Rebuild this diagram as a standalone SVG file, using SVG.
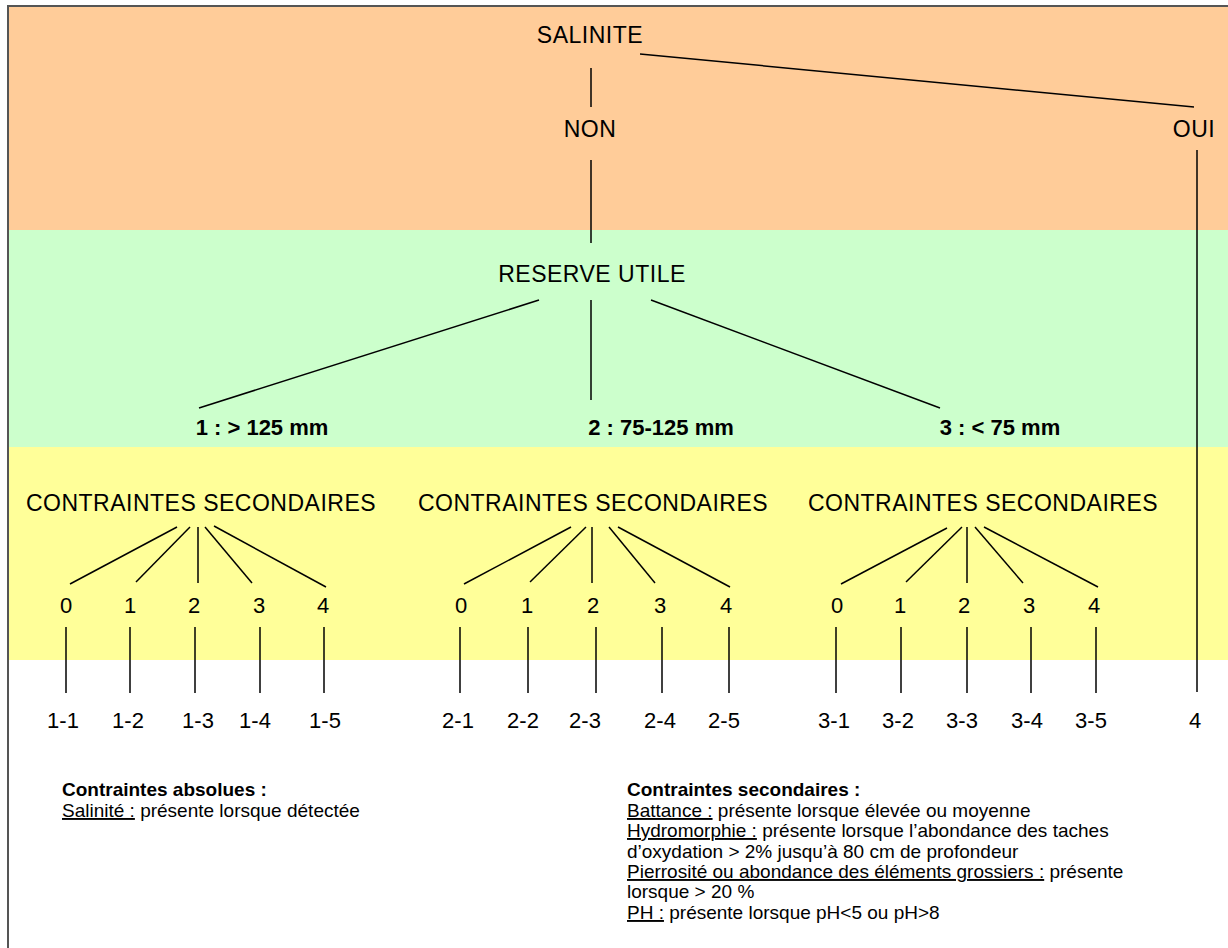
<svg xmlns="http://www.w3.org/2000/svg" width="1228" height="948" viewBox="0 0 1228 948">
<style>
.t{font-family:"Liberation Sans",Arial,sans-serif;font-size:22px;fill:#000;text-anchor:middle}
.h{font-family:"Liberation Sans",Arial,sans-serif;font-size:23px;letter-spacing:0.5px;fill:#000;text-anchor:middle}
.b{font-family:"Liberation Sans",Arial,sans-serif;font-size:22px;font-weight:bold;fill:#000;text-anchor:middle}
.s{font-family:"Liberation Sans",Arial,sans-serif;font-size:19px;fill:#000}
.sb{font-family:"Liberation Sans",Arial,sans-serif;font-size:19px;font-weight:bold;fill:#000}
.u{text-decoration:underline}
.c line{stroke:#000;stroke-width:1.5}
</style>
<rect x="0" y="0" width="1228" height="948" fill="#fff"/>
<g id="bands">
<rect x="9" y="7" width="1219" height="223" fill="#FFCC99"/>
<rect x="9" y="230" width="1219" height="217" fill="#CCFFCC"/>
<rect x="9" y="447" width="1219" height="213" fill="#FFFF99"/>
</g>
<rect x="8" y="6" width="1240" height="960" fill="none" stroke="#555" stroke-width="2"/>
<g class="c" id="connectors">
<line x1="591" y1="68" x2="591" y2="107"/>
<line x1="640" y1="54" x2="1194" y2="107"/>
<line x1="591" y1="160" x2="591" y2="243"/>
<line x1="1197" y1="150" x2="1197" y2="692"/>
<line x1="539" y1="300" x2="199" y2="408"/>
<line x1="591" y1="300" x2="591" y2="400"/>
<line x1="651" y1="300" x2="940" y2="408"/>
<line x1="177" y1="527" x2="70" y2="584"/>
<line x1="190" y1="527" x2="136" y2="582"/>
<line x1="198" y1="527" x2="198" y2="583"/>
<line x1="205" y1="527" x2="252" y2="583"/>
<line x1="214" y1="526" x2="326" y2="587"/>
<line x1="571" y1="527" x2="464" y2="584"/>
<line x1="586" y1="527" x2="530" y2="582"/>
<line x1="592" y1="527" x2="592" y2="583"/>
<line x1="609" y1="527" x2="655" y2="583"/>
<line x1="618" y1="527" x2="730" y2="587"/>
<line x1="947" y1="528" x2="841" y2="584"/>
<line x1="962" y1="527" x2="906" y2="582"/>
<line x1="967" y1="527" x2="967" y2="583"/>
<line x1="975" y1="527" x2="1023" y2="583"/>
<line x1="984" y1="527" x2="1098" y2="587"/>
<line x1="66" y1="627" x2="66" y2="693"/>
<line x1="130" y1="627" x2="130" y2="693"/>
<line x1="195" y1="627" x2="195" y2="693"/>
<line x1="260" y1="627" x2="260" y2="693"/>
<line x1="324" y1="627" x2="324" y2="693"/>
<line x1="460" y1="627" x2="460" y2="693"/>
<line x1="528" y1="627" x2="528" y2="693"/>
<line x1="596" y1="627" x2="596" y2="693"/>
<line x1="662" y1="627" x2="662" y2="693"/>
<line x1="729" y1="627" x2="729" y2="693"/>
<line x1="836" y1="627" x2="836" y2="693"/>
<line x1="901" y1="627" x2="901" y2="693"/>
<line x1="967" y1="627" x2="967" y2="693"/>
<line x1="1031" y1="627" x2="1031" y2="693"/>
<line x1="1096" y1="627" x2="1096" y2="693"/>
</g>
<g id="salinite"><text class="h" x="590" y="43">SALINITE</text></g>
<g id="non"><text class="h" x="590" y="137">NON</text></g>
<g id="oui"><text class="h" x="1194" y="137">OUI</text></g>
<g id="reserve"><text class="h" x="592" y="282">RESERVE UTILE</text></g>
<g id="ru1"><text class="b" x="262" y="435">1 : &gt; 125 mm</text></g>
<g id="ru2"><text class="b" x="661" y="435">2 : 75-125 mm</text></g>
<g id="ru3"><text class="b" x="1000" y="435">3 : &lt; 75 mm</text></g>
<g id="cs1"><text class="h" x="201" y="511">CONTRAINTES SECONDAIRES</text></g>
<g id="cs2"><text class="h" x="593" y="511">CONTRAINTES SECONDAIRES</text></g>
<g id="cs3"><text class="h" x="983" y="511">CONTRAINTES SECONDAIRES</text></g>
<g id="n1">
<text class="t" x="66" y="613">0</text><text class="t" x="130" y="613">1</text><text class="t" x="194" y="613">2</text><text class="t" x="259" y="613">3</text><text class="t" x="323" y="613">4</text>
</g>
<g id="n2">
<text class="t" x="461" y="613">0</text><text class="t" x="527" y="613">1</text><text class="t" x="593" y="613">2</text><text class="t" x="660" y="613">3</text><text class="t" x="726" y="613">4</text>
</g>
<g id="n3">
<text class="t" x="837" y="613">0</text><text class="t" x="900" y="613">1</text><text class="t" x="964" y="613">2</text><text class="t" x="1029" y="613">3</text><text class="t" x="1094" y="613">4</text>
</g>
<g id="leaves1">
<text class="t" x="63" y="728">1-1</text><text class="t" x="128" y="728">1-2</text><text class="t" x="198" y="728">1-3</text><text class="t" x="255" y="728">1-4</text><text class="t" x="325" y="728">1-5</text>
</g>
<g id="leaves2">
<text class="t" x="458" y="728">2-1</text><text class="t" x="523" y="728">2-2</text><text class="t" x="585" y="728">2-3</text><text class="t" x="660" y="728">2-4</text><text class="t" x="724" y="728">2-5</text>
</g>
<g id="leaves3">
<text class="t" x="834" y="728">3-1</text><text class="t" x="898" y="728">3-2</text><text class="t" x="962" y="728">3-3</text><text class="t" x="1027" y="728">3-4</text><text class="t" x="1091" y="728">3-5</text>
</g>
<g id="leaf4"><text class="t" x="1195" y="728">4</text></g>
<g id="legend-abs">
<text class="sb" x="62" y="796">Contraintes absolues :</text>
<text class="s" x="62" y="817"><tspan class="u">Salinité :</tspan> présente lorsque détectée</text>
</g>
<g id="legend-sec">
<text class="sb" x="627" y="796">Contraintes secondaires :</text>
<text class="s" x="627" y="817"><tspan class="u">Battance :</tspan> présente lorsque élevée ou moyenne</text>
<text class="s" x="627" y="837"><tspan class="u">Hydromorphie :</tspan> présente lorsque l’abondance des taches</text>
<text class="s" x="627" y="858">d’oxydation &gt; 2% jusqu’à 80 cm de profondeur</text>
<text class="s" x="627" y="878"><tspan class="u">Pierrosité ou abondance des éléments  grossiers :</tspan> présente</text>
<text class="s" x="627" y="898">lorsque &gt; 20 %</text>
<text class="s" x="627" y="919"><tspan class="u">PH :</tspan> présente lorsque pH&lt;5 ou pH&gt;8</text>
</g>
</svg>
